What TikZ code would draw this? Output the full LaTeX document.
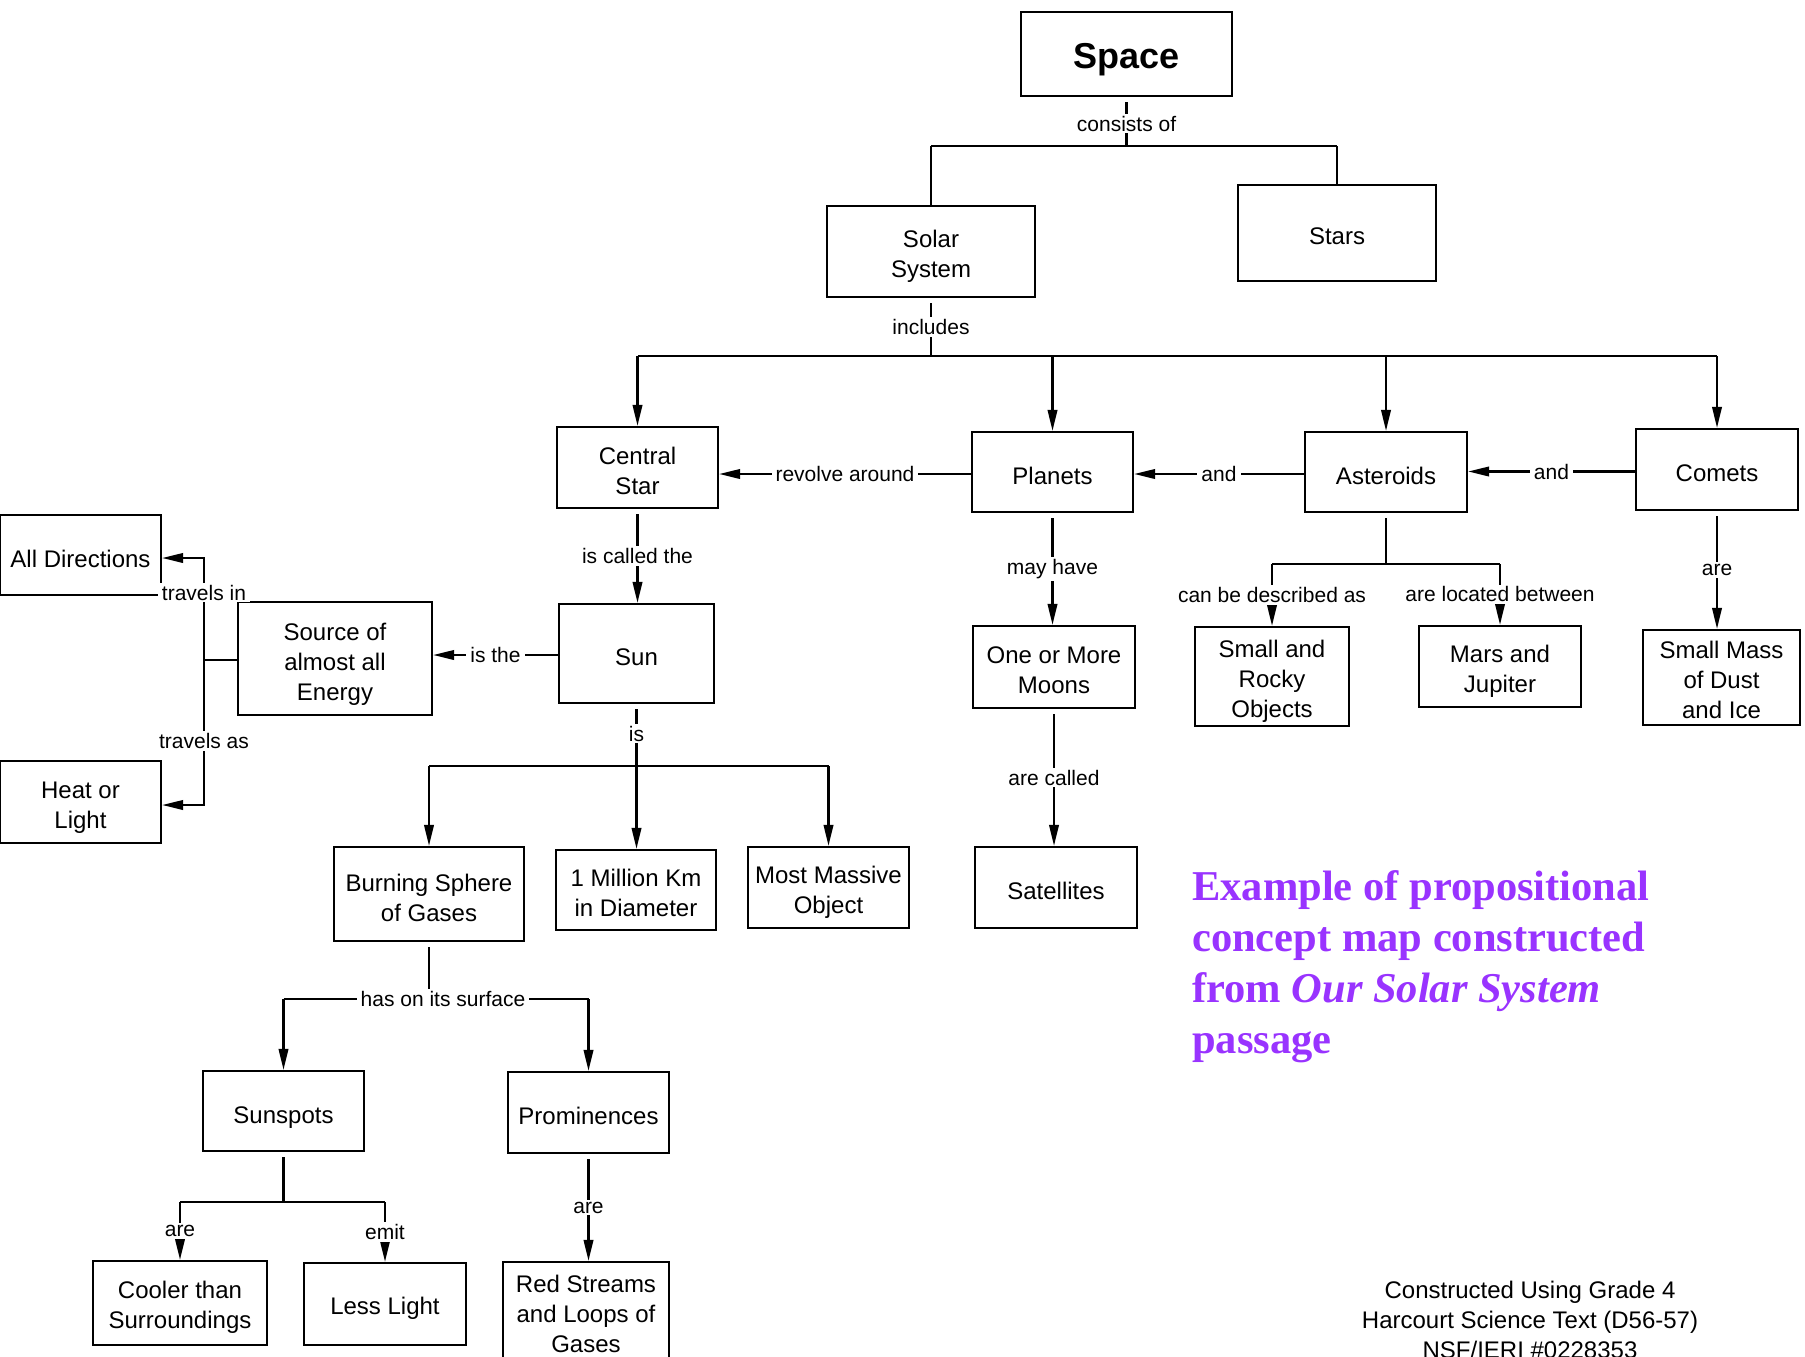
\documentclass[tikz,border=0pt]{standalone}
\usepackage{fontspec}
\setmainfont{Liberation Sans}
\newfontfamily\purpleserif{Liberation Serif}
\usetikzlibrary{arrows.meta}
\definecolor{titlepurple}{RGB}{153,51,255}
\newcommand\boxfont{\fontsize{24}{30}\selectfont}
\newcommand\lblfont{\fontsize{21}{25}\selectfont}
% concept box: [text drop]{name}{x,y}{width}{height}{text}
\newcommand\cbox[6][3.5pt]{%
  \node[boxframe, minimum width=#4, minimum height=#5] (#2) at (#3) {};
  \node[boxtext] (#2-t) at ([yshift=-#1]#2.center) {#6};}
\begin{document}
\begin{tikzpicture}[x=1pt,y=-1pt,
  boxframe/.style={draw, line width=2.2pt, fill=white, inner sep=0pt},
  boxtext/.style={align=center, font=\boxfont, inner sep=0pt},
  lbl/.style={fill=white, font=\lblfont, inner xsep=4pt, inner ysep=2pt},
  conn/.style={line width=2.2pt},
  arr/.style={conn, -{Triangle[length=21pt,width=9.5pt]}},
  ]
\useasboundingbox (0,0) rectangle (1805,1357);
\fill[white] (0,0) rectangle (1805,1357);

% ---------- concept boxes ----------
\cbox[6pt]{space}{1126.5,54}{211pt}{84pt}{\fontsize{36}{40}\selectfont\bfseries Space}
\cbox[4.5pt]{solar}{931,251.5}{208pt}{91pt}{Solar\\System}
\cbox{stars}{1337,233}{198pt}{96pt}{Stars}
\cbox{cstar}{637.5,467.5}{161pt}{81pt}{Central\\Star}
\cbox{planets}{1052.5,472}{161pt}{80pt}{Planets}
\cbox{asteroids}{1386,472}{162pt}{80pt}{Asteroids}
\cbox{comets}{1717,469.5}{162pt}{81pt}{Comets}
\cbox{sun}{636.5,653.5}{155pt}{99pt}{Sun}
\cbox[6pt]{source}{335,658.5}{194pt}{113pt}{Source of\\almost all\\Energy}
\cbox{alldir}{80.5,555}{161pt}{80pt}{All Directions}
\cbox[6pt]{heat}{80.5,802}{161pt}{82pt}{Heat or\\Light}
\cbox{burning}{429,894}{190pt}{94pt}{Burning Sphere\\of Gases}
\cbox[2.5pt]{million}{636,890}{160pt}{80pt}{1 Million Km\\in Diameter}
\cbox[4.5pt]{massive}{828.5,887.5}{161pt}{81pt}{Most Massive\\Object}
\cbox[7pt]{sunspots}{283.5,1111}{161pt}{80pt}{Sunspots}
\cbox{prom}{588.5,1112.5}{161pt}{81pt}{Prominences}
\cbox[4.5pt]{cooler}{180,1303}{174pt}{84pt}{Cooler than\\Surroundings}
\cbox[4.5pt]{less}{385,1304}{162pt}{82pt}{Less Light}
\cbox[1.5pt]{red}{586,1312}{166pt}{100pt}{Red Streams\\and Loops of\\Gases}
\cbox{moons}{1054,667}{162pt}{82pt}{One or More\\Moons}
\cbox{satellites}{1056,887.5}{162pt}{81pt}{Satellites}
\cbox[4.5pt]{rocky}{1272,676.5}{154pt}{99pt}{Small and\\Rocky\\Objects}
\cbox[4.5pt]{mars}{1500,666.5}{162pt}{81pt}{Mars and\\Jupiter}
\cbox[2.5pt]{smallmass}{1721.5,677.5}{157pt}{95pt}{Small Mass\\of Dust\\and Ice}

% ---------- junction coordinates ----------
\coordinate (sbus) at (0,146);
\coordinate (ibus) at (0,356);
\coordinate (tj) at (204,660);
\coordinate (isbus) at (0,766);
\coordinate (hbus) at (0,999);
\coordinate (spbus) at (0,1202);
\coordinate (abus) at (0,564);

% ---------- Space consists of ----------
\draw[conn, shorten <=5pt] (space.south) -- node[lbl, yshift=-2pt] {consists of} (space.south |- sbus);
\draw[conn] (solar.north |- sbus) -- (stars.north |- sbus);
\draw[conn] (solar.north |- sbus) -- (solar.north);
\draw[conn] (stars.north |- sbus) -- (stars.north);

% ---------- Solar System includes ----------
\draw[conn, shorten <=5pt] (solar.south) -- node[lbl] {includes} (solar.south |- ibus);
\draw[conn] (cstar.north |- ibus) -- (comets.north |- ibus);
\draw[arr] (cstar.north |- ibus) -- (cstar.north);
\draw[arr] (planets.north |- ibus) -- (planets.north);
\draw[arr] (asteroids.north |- ibus) -- (asteroids.north);
\draw[arr] (comets.north |- ibus) -- (comets.north);

% ---------- horizontal relations ----------
\draw[arr] ([yshift=-2pt]planets.west) -- node[lbl] {revolve around} ([yshift=-2pt]planets.west -| cstar.east);
\draw[arr] ([yshift=-2pt]asteroids.west) -- node[lbl] {and} ([yshift=-2pt]asteroids.west -| planets.east);
\draw[arr] ([yshift=-2pt]comets.west) -- node[lbl] {and} ([yshift=-2pt]comets.west -| asteroids.east);

% ---------- Central Star / Sun ----------
\draw[arr, shorten <=5pt] (cstar.south) -- node[lbl] {is called the} (cstar.south |- sun.north);
\draw[arr] ([yshift=-1.5pt]sun.west) -- node[lbl] {is the} ([yshift=-1.5pt]sun.west -| source.east);
\draw[conn] (source.west |- tj) -- (tj);
\draw[arr] (tj) |- node[lbl, pos=0.33] {travels in} ([yshift=-3pt]alldir.east);
\draw[arr] (tj) |- node[lbl, pos=0.28] {travels as} ([yshift=-3pt]heat.east);

\draw[conn, shorten <=5pt] (sun.south) -- node[lbl, yshift=1.5pt] {is} (sun.south |- isbus);
\draw[conn] (burning.north |- isbus) -- (massive.north |- isbus);
\draw[arr] (burning.north |- isbus) -- (burning.north);
\draw[arr] (sun.south |- isbus) -- (sun.south |- million.north);
\draw[arr] (massive.north |- isbus) -- (massive.north);

% ---------- Burning Sphere ----------
\draw[conn, shorten <=5pt] (burning.south) -- (burning.south |- hbus);
\draw[conn] (sunspots.north |- hbus) -- node[lbl, pos=0.523] {has on its surface} (prom.north |- hbus);
\draw[arr] (sunspots.north |- hbus) -- (sunspots.north);
\draw[arr] (prom.north |- hbus) -- (prom.north);

% ---------- Sunspots ----------
\draw[conn, shorten <=5pt] (sunspots.south) -- (sunspots.south |- spbus);
\draw[conn] (cooler.north |- spbus) -- (less.north |- spbus);
\draw[arr] (cooler.north |- spbus) -- node[lbl] {are} (cooler.north);
\draw[arr] (less.north |- spbus) -- node[lbl] {emit} (less.north);

% ---------- Prominences ----------
\draw[arr, shorten <=5pt] (prom.south) -- node[lbl] {are} (prom.south |- red.north);

% ---------- Planets ----------
\draw[arr, shorten <=5pt] (planets.south) -- node[lbl] {may have} (planets.south |- moons.north);
\draw[arr, shorten <=5pt] (moons.south) -- node[lbl] {are called} (moons.south |- satellites.north);

% ---------- Asteroids ----------
\draw[conn, shorten <=5pt] (asteroids.south) -- (asteroids.south |- abus);
\draw[conn] (rocky.north |- abus) -- (mars.north |- abus);
\draw[arr] (rocky.north |- abus) -- node[lbl] {can be described as} (rocky.north);
\draw[arr] (mars.north |- abus) -- node[lbl] {are located between} (mars.north);

% ---------- Comets ----------
\draw[arr, shorten <=5pt] (comets.south) -- node[lbl] {are} (comets.south |- smallmass.north);

% ---------- texts ----------
\node[anchor=north west, align=left, inner sep=0pt, text=titlepurple,
      font=\purpleserif\bfseries\fontsize{42.5}{51}\selectfont] (title) at (1192,870)
  {Example of propositional\\concept map constructed\\from \textit{Our Solar System}\\passage};
\node[anchor=north, align=center, inner sep=0pt, font=\fontsize{24}{30}\selectfont] (credit) at (1530,1281)
  {Constructed Using Grade 4\\Harcourt Science Text (D56-57)\\NSF/IERI \#0228353};
\end{tikzpicture}
\end{document}
